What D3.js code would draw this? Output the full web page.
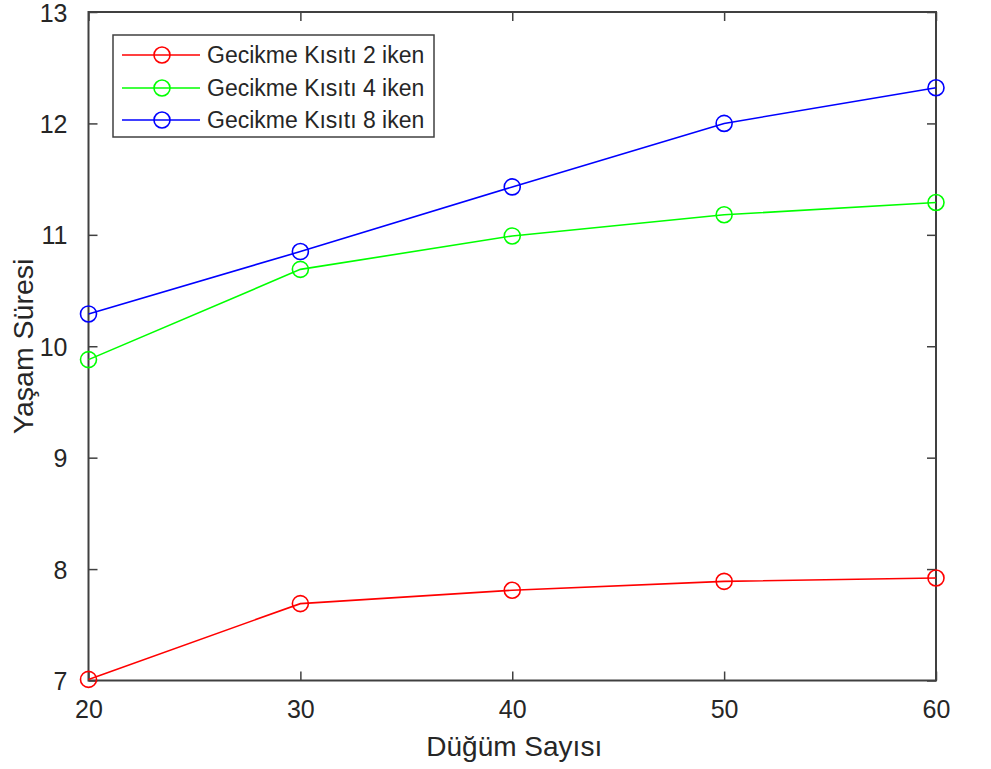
<!DOCTYPE html>
<html>
<head>
<meta charset="utf-8">
<script src="https://cdn.jsdelivr.net/npm/d3@7"></script>
<style>
  html, body { margin: 0; padding: 0; background: #fff; }
  svg { display: block; }
  text { font-family: "Liberation Sans", Arial, Helvetica, sans-serif; fill: #262626; }
</style>
</head>
<body>
<script>
// Node counts on the x axis
const nodeCounts = [20, 30, 40, 50, 60];
// Lifetime per delay-constraint setting
const delay2 = [7.01, 7.69, 7.81, 7.89, 7.92];
const delay4 = [9.88, 10.69, 10.99, 11.18, 11.29];
const delay8 = [10.29, 10.85, 11.43, 12.00, 12.32];
const seriesNames = ["Gecikme Kısıtı 2 iken", "Gecikme Kısıtı 4 iken", "Gecikme Kısıtı 8 iken"];
const seriesColors = ["#ff0000", "#00ff00", "#0000ff"];
const xTicks = [20, 30, 40, 50, 60];
const yTicks = [7, 8, 9, 10, 11, 12, 13];
const xLabel = "Düğüm Sayısı";
const yLabel = "Yaşam Süresi";

const W = 991, H = 769;
const box = { left: 88.5, right: 936, top: 12, bottom: 680.5 };
const axisColor = "#404040";

const svg = d3.select("body").append("svg").attr("width", W).attr("height", H);

const x = d3.scaleLinear().domain([20, 60]).range([box.left, box.right]);
const y = d3.scaleLinear().domain([7, 13]).range([box.bottom, box.top]);

const series = [delay2, delay4, delay8].map((vals, i) => ({
  name: seriesNames[i],
  color: seriesColors[i],
  points: nodeCounts.map((n, j) => ({ x: n, y: vals[j] }))
}));

// Axes with inward ticks on all four sides
const tickLen = 9;
const gBottom = svg.append("g").attr("transform", `translate(0,${box.bottom})`)
  .call(d3.axisBottom(x).tickValues(xTicks).tickSize(-tickLen).tickPadding(tickLen + 11).tickFormat(d3.format("d")));
const gTop = svg.append("g").attr("transform", `translate(0,${box.top})`)
  .call(d3.axisTop(x).tickValues(xTicks).tickSize(-tickLen).tickFormat(""));
const gLeft = svg.append("g").attr("transform", `translate(${box.left},0)`)
  .call(d3.axisLeft(y).tickValues(yTicks).tickSize(-tickLen).tickPadding(tickLen + 12).tickFormat(d3.format("d")));
const gRight = svg.append("g").attr("transform", `translate(${box.right},0)`)
  .call(d3.axisRight(y).tickValues(yTicks).tickSize(-tickLen).tickFormat(""));

[gBottom, gTop, gLeft, gRight].forEach(g => {
  g.select(".domain").remove();
  g.selectAll(".tick line").attr("stroke", axisColor).attr("stroke-width", 1.5);
  g.selectAll(".tick text").style("font-size", "25px").attr("fill", "#262626");
});
gLeft.selectAll(".tick text").attr("dy", "0.36em");

// Axes box
svg.append("rect")
  .attr("x", box.left).attr("y", box.top)
  .attr("width", box.right - box.left).attr("height", box.bottom - box.top)
  .attr("fill", "none").attr("stroke", axisColor).attr("stroke-width", 2);

// Lines and circle markers
const line = d3.line().x(d => x(d.x)).y(d => y(d.y));
const gs = svg.append("g").selectAll("g").data(series).join("g");
gs.append("path")
  .attr("d", d => line(d.points))
  .attr("fill", "none").attr("stroke", d => d.color).attr("stroke-width", 1.6);
gs.each(function (s) {
  d3.select(this).selectAll("circle").data(s.points).join("circle")
    .attr("cx", d => x(d.x)).attr("cy", d => y(d.y)).attr("r", 8)
    .attr("fill", "none").attr("stroke", s.color).attr("stroke-width", 1.6);
});

// Axis titles
svg.append("text")
  .attr("x", (box.left + box.right) / 2 + 2).attr("y", 756)
  .attr("text-anchor", "middle").style("font-size", "28px").text(xLabel);
svg.append("text")
  .attr("transform", `translate(33,${(box.top + box.bottom) / 2}) rotate(-90)`)
  .attr("text-anchor", "middle").style("font-size", "28.5px").text(yLabel);

// Legend
const lg = svg.append("g").attr("transform", "translate(113,35)");
lg.append("rect").attr("width", 321).attr("height", 102)
  .attr("fill", "#fff").attr("stroke", axisColor).attr("stroke-width", 1.5);
const rowY = [20, 53, 85];
series.forEach((s, i) => {
  const r = lg.append("g").attr("transform", `translate(0,${rowY[i]})`);
  r.append("line").attr("x1", 9).attr("x2", 87).attr("y1", 0).attr("y2", 0)
    .attr("stroke", s.color).attr("stroke-width", 1.6);
  r.append("circle").attr("cx", 49).attr("cy", 0).attr("r", 8)
    .attr("fill", "none").attr("stroke", s.color).attr("stroke-width", 1.6);
  r.append("text").attr("x", 94).attr("y", 0).attr("dy", "0.36em")
    .style("font-size", "23px").text(s.name);
});
</script>
</body>
</html>
